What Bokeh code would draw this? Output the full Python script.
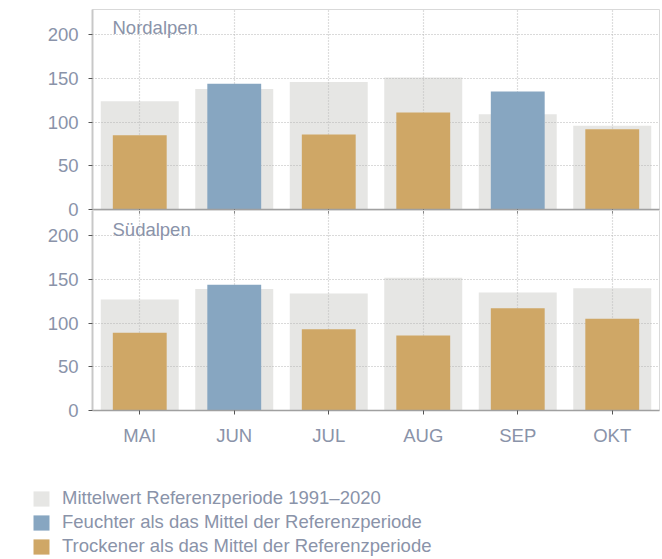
from bokeh.plotting import figure
from bokeh.models import (ColumnDataSource, FactorRange, Range1d, Legend, LegendItem,
                          Label, FixedTicker)
from bokeh.layouts import column
from bokeh.embed import file_html
from bokeh.resources import INLINE

# ---- data ----
months = ["MAI", "JUN", "JUL", "AUG", "SEP", "OKT"]
nord_ref = [124, 138, 146, 151, 109, 96]
nord_act = [85, 144, 86, 111, 135, 92]
sued_ref = [127, 139, 134, 152, 135, 140]
sued_act = [89, 144, 93, 86, 117, 105]
y_ticks = [0, 50, 100, 150, 200]
regions = ["Nordalpen", "Südalpen"]
legend_labels = ["Mittelwert Referenzperiode 1991–2020",
                 "Feuchter als das Mittel der Referenzperiode",
                 "Trockener als das Mittel der Referenzperiode"]

# ---- style ----
C_REF = "#e6e6e4"
C_WET = "#87a6c1"
C_DRY = "#cfa766"
C_TXT = "#8a93a9"
FONT = "Liberation Sans"
FS = "18.5px"
Y_MAX = 229


def make_panel(title, ref, act, height, min_top, min_bottom, label_dy):
    p = figure(x_range=FactorRange(*months), y_range=Range1d(0, Y_MAX),
               width=662, height=height, output_backend="svg", toolbar_location=None,
               min_border_left=92, min_border_right=3,
               min_border_top=min_top, min_border_bottom=min_bottom)
    p.outline_line_color = "#d9d9d9"
    p.outline_line_width = 1

    src_ref = ColumnDataSource(dict(x=months, top=ref))
    p.vbar(x="x", top="top", width=0.825, source=src_ref,
           fill_color=C_REF, line_color=None, level="image")

    wet = [i for i in range(len(months)) if act[i] > ref[i]]
    dry = [i for i in range(len(months)) if act[i] <= ref[i]]
    src_wet = ColumnDataSource(dict(x=[months[i] for i in wet], top=[act[i] for i in wet]))
    src_dry = ColumnDataSource(dict(x=[months[i] for i in dry], top=[act[i] for i in dry]))
    p.vbar(x="x", top="top", width=0.57, source=src_wet, fill_color=C_WET, line_color=None)
    p.vbar(x="x", top="top", width=0.57, source=src_dry, fill_color=C_DRY, line_color=None)

    # grids
    p.xgrid.grid_line_color = "#bcbcbc"
    p.xgrid.grid_line_dash = "1 2"
    p.xgrid.grid_line_width = 1.2
    p.ygrid.grid_line_color = "#b4b4b4"
    p.ygrid.grid_line_dash = "1 2"
    p.ygrid.grid_line_width = 1.2

    # y axis
    p.yaxis.ticker = FixedTicker(ticks=y_ticks)
    p.yaxis.axis_line_color = "#c8c8c8"
    p.yaxis.axis_line_width = 2
    p.yaxis.major_tick_line_color = "#555555"
    p.yaxis.major_tick_in = 0
    p.yaxis.major_tick_out = 4
    p.yaxis.minor_tick_line_color = None
    p.yaxis.major_label_standoff = 10
    p.yaxis.major_label_text_font = FONT
    p.yaxis.major_label_text_font_size = FS
    p.yaxis.major_label_text_color = C_TXT

    # x axis
    p.xaxis.axis_line_color = "#a0a0a0"
    p.xaxis.axis_line_width = 1.5
    p.xaxis.major_tick_line_color = "#555555"
    p.xaxis.major_tick_in = 0
    p.xaxis.major_tick_out = 4

    lab = Label(x=0, y=Y_MAX, x_offset=20, y_offset=label_dy, text=title,
                text_baseline="top", text_font=FONT, text_font_size=FS,
                text_color=C_TXT)
    p.add_layout(lab)
    return p


# upper panel: frame 9..209, room below for the "0" label
top = make_panel(regions[0], nord_ref, nord_act, 220, 9, 11, -7)
top.xaxis.major_label_text_font_size = "1px"
top.xaxis.major_label_text_color = None
top.xaxis.major_label_standoff = 0

# lower panel: transparent, pulled up so it starts right under the upper frame
bot = make_panel(regions[1], sued_ref, sued_act, 250, 0, 50, -8)
bot.background_fill_color = None
bot.border_fill_color = None
bot.margin = (-10, 0, 0, 0)
bot.xaxis.major_label_standoff = 10
bot.xaxis.major_label_text_font = FONT
bot.xaxis.major_label_text_font_size = FS
bot.xaxis.major_label_text_color = C_TXT

# legend strip
leg = figure(width=662, height=99, x_range=Range1d(0, 1), y_range=Range1d(0, 1),
             x_axis_type=None, y_axis_type=None, output_backend="svg",
             toolbar_location=None, min_border=0)
leg.outline_line_color = None
leg.grid.visible = False
leg_colors = [C_REF, C_WET, C_DRY]
items = []
for lbl, col in zip(legend_labels, leg_colors):
    r = leg.vbar(x=[float("nan")], top=[float("nan")], width=0.1,
                 fill_color=col, line_color=None)
    items.append(LegendItem(label=lbl, renderers=[r]))
legend = Legend(items=items, location=(31, 2), orientation="vertical",
                glyph_width=20, glyph_height=19, label_height=19, spacing=2,
                label_standoff=11, padding=0, margin=0,
                border_line_color=None, background_fill_alpha=0,
                label_text_font=FONT, label_text_font_size=FS,
                label_text_color=C_TXT)
leg.add_layout(legend)

layout = column(column(top, bot, spacing=0), leg, spacing=0)
open("out.html", "w").write(file_html(layout, INLINE))
